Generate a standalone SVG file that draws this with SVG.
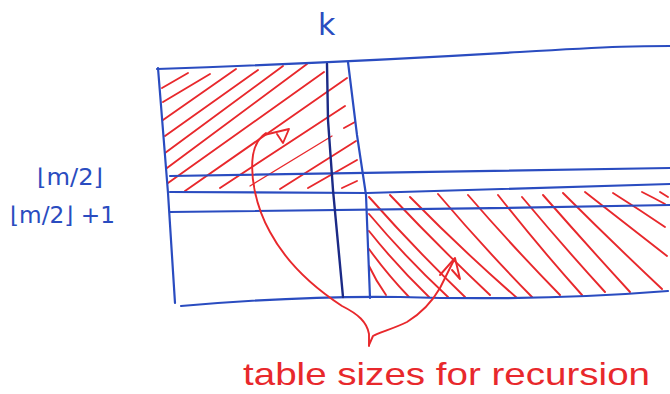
<svg xmlns="http://www.w3.org/2000/svg" width="670" height="394" viewBox="0 0 670 394">
<style>
.bl{fill:none;stroke:#2a4cc0;stroke-width:2.2;stroke-linecap:round;stroke-linejoin:round}
.dk{fill:none;stroke:#1b2a86;stroke-width:2.4;stroke-linecap:round}
.rd{fill:none;stroke:#e8282c;stroke-width:1.9;stroke-linecap:round;stroke-linejoin:round}
.bt{fill:#2a4cc0;font-family:"DejaVu Sans","Liberation Sans",sans-serif}
.rt{fill:#e8282c;font-family:"Liberation Sans","DejaVu Sans",sans-serif}
</style>
<rect width="670" height="394" fill="#ffffff"/>

<g id="hatch-top-left" class="rd">
<path d="M162,88 L188,73"/>
<path d="M163,102 L210,74"/>
<path d="M163,120 L236,69"/>
<path d="M165,136 L258,70"/>
<path d="M165,153 L283,66"/>
<path d="M167,168 L307,64"/>
<path d="M168,183 L324,72"/>
<path d="M185,191 L347,78"/>
<path d="M220,188 L345,106"/>
<path d="M250,186 L332,136" stroke-width="1.3"/>
<path d="M280,189 L356,141"/>
<path d="M308,188 L357,160"/>
<path d="M342,188 L357,181"/>
<path d="M344,128 L355,122"/>
</g>

<g id="hatch-bottom-right" class="rd">
<path d="M369,266 Q376,281 386,295"/>
<path d="M369,249 Q387,274 409,297"/>
<path d="M369,231 Q396,265 429,297"/>
<path d="M369,214 Q406,258 448,297"/>
<path d="M369,197 Q416,250 465,297"/>
<path d="M390,195 Q440,248 490,295"/>
<path d="M410,197 Q462,250 517,298"/>
<path d="M438,194 Q484,248 532,297"/>
<path d="M468,195 Q513,247 560,295"/>
<path d="M498,195 Q539,247 582,295"/>
<path d="M522,197 Q563,246 605,292"/>
<path d="M543,195 Q586,244 630,292"/>
<path d="M563,193 Q610,240 662,289"/>
<path d="M585,192 Q626,224 667,256"/>
<path d="M613,193 Q640,210 665,227"/>
<path d="M642,192 Q654,198 665,204"/>
<path d="M660,192 L668,197"/>
</g>

<g id="grid">
<path class="bl" d="M157,69 C300,64 420,58 520,52 S640,46 670,46"/>
<path class="bl" d="M158,68 L168,193 L175,303"/>
<path class="bl" d="M181,306 C250,300 330,296 400,297 C500,300 580,298 668,291"/>
<path class="bl" d="M170,176 C300,174 450,170 670,168"/>
<path class="bl" d="M170,192 L367,193 C500,190 600,186 670,184"/>
<path class="bl" d="M170,212 C350,211 500,208 670,205"/>
<path class="dk" d="M327,64 L328,120 L333,190 L343,297"/>
<path class="bl" d="M348,62 L357,135 L366,195 L370,298"/>
</g>

<g id="labels">
<text class="bt" x="318" y="35" font-size="30">k</text>
<text class="bt" x="37" y="185" font-size="23" textLength="66" lengthAdjust="spacingAndGlyphs">⌊m/2⌋</text>
<text class="bt" x="10" y="223" font-size="23" textLength="105" lengthAdjust="spacingAndGlyphs">⌊m/2⌋ +1</text>
</g>

<g id="connectors" class="rd">
<path d="M369,346 L369,334 C367,322 358,314 342,306 C310,285 285,260 270,232 C255,205 250,175 253,155 C255,143 260,137 266,133"/>
<path d="M264,135 L289,129 L283,143 L277,134"/>
<path d="M369,345 L373,336 C378,333 395,328 407,322 C420,314 432,302 440,288 L454,260"/>
<path d="M440,275 L455,258 L460,279 L452,270"/>
</g>

<g id="caption">
<text class="rt" x="243" y="385" font-size="32" textLength="407" lengthAdjust="spacingAndGlyphs">table sizes for recursion</text>
</g>
</svg>
